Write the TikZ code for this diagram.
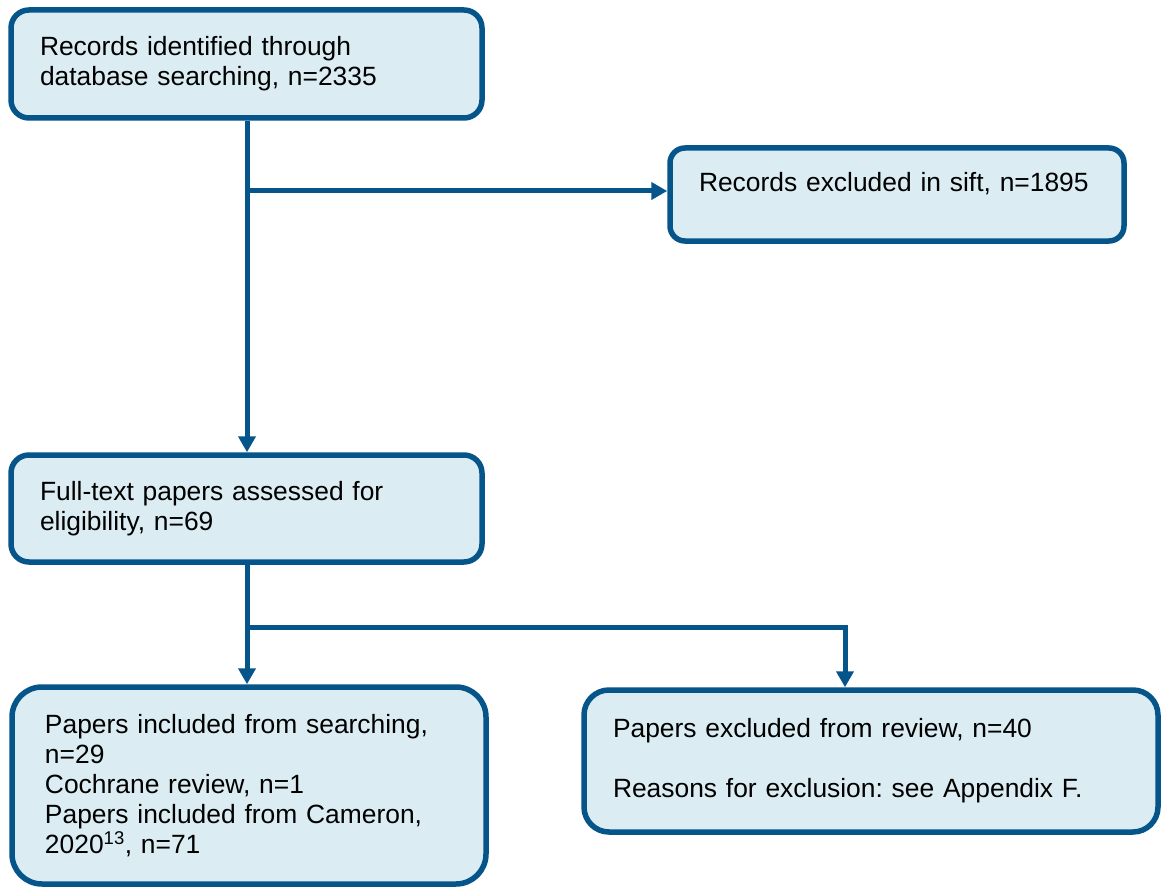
\documentclass[tikz,border=0pt]{standalone}
\usepackage{fontspec}
\setmainfont{Liberation Sans}
\usetikzlibrary{arrows.meta}
\definecolor{edge}{RGB}{5,84,138}
\definecolor{boxfill}{RGB}{219,237,243}
\tikzset{
  box/.style={draw=edge, fill=boxfill, line width=5.5pt, align=left,
    font=\fontsize{26.4}{30}\selectfont\frenchspacing, inner xsep=29pt, inner ysep=0pt, anchor=center},
  conn/.style={draw=edge, line width=5pt},
  arr/.style={conn, -{Triangle[length=16pt,width=17pt]}}
}
\begin{document}
\begin{tikzpicture}[x=1pt,y=1pt]
\useasboundingbox (0,0) rectangle (1168,-888);
\node[box, rounded corners=18pt, minimum width=471pt, minimum height=108pt, text width=413pt]
  (b1) at (246.5,-64) {Records identified through\\database searching, n=2335};
\node[box, rounded corners=15pt, minimum width=454pt, minimum height=93pt, text width=396pt, text depth=24.5pt]
  (b2) at (897,-194.5) {Records excluded in sift, n=1895};
\node[box, rounded corners=18pt, minimum width=471pt, minimum height=107pt, text width=413pt]
  (b3) at (246.5,-508.5) {Full-text papers assessed for\\eligibility, n=69};
\node[box, rounded corners=30pt, minimum width=474pt, minimum height=197pt, inner xsep=33pt, text width=408pt]
  (b4) at (249,-785.5) {Papers included from searching,\\n=29\\Cochrane review, n=1\\Papers included from Cameron,\\2020\textsuperscript{13}, n=71};
\node[box, rounded corners=25pt, minimum width=574pt, minimum height=142pt, text width=516pt]
  (b5) at (871,-761) {Papers excluded from review, n=40\\[30pt]Reasons for exclusion: see Appendix F.};
\coordinate (j1) at (247,-191);
\coordinate (j2) at (247,-627);
\coordinate (j3) at (845,-627);
\draw[arr] (b1.south -| j1) -- (b3.north -| j1);
\draw[arr] (j1) -- (j1 -| b2.west);
\draw[conn] (b3.south -| j2) -- (j2);
\draw[arr] (j2) -- (b4.north -| j2);
\draw[conn, line join=miter] (j2) -- (j3) -- ([yshift=-1pt]j3);
\draw[arr] ([yshift=2.5pt]j3) -- (b5.north -| j3);
\end{tikzpicture}
\end{document}
